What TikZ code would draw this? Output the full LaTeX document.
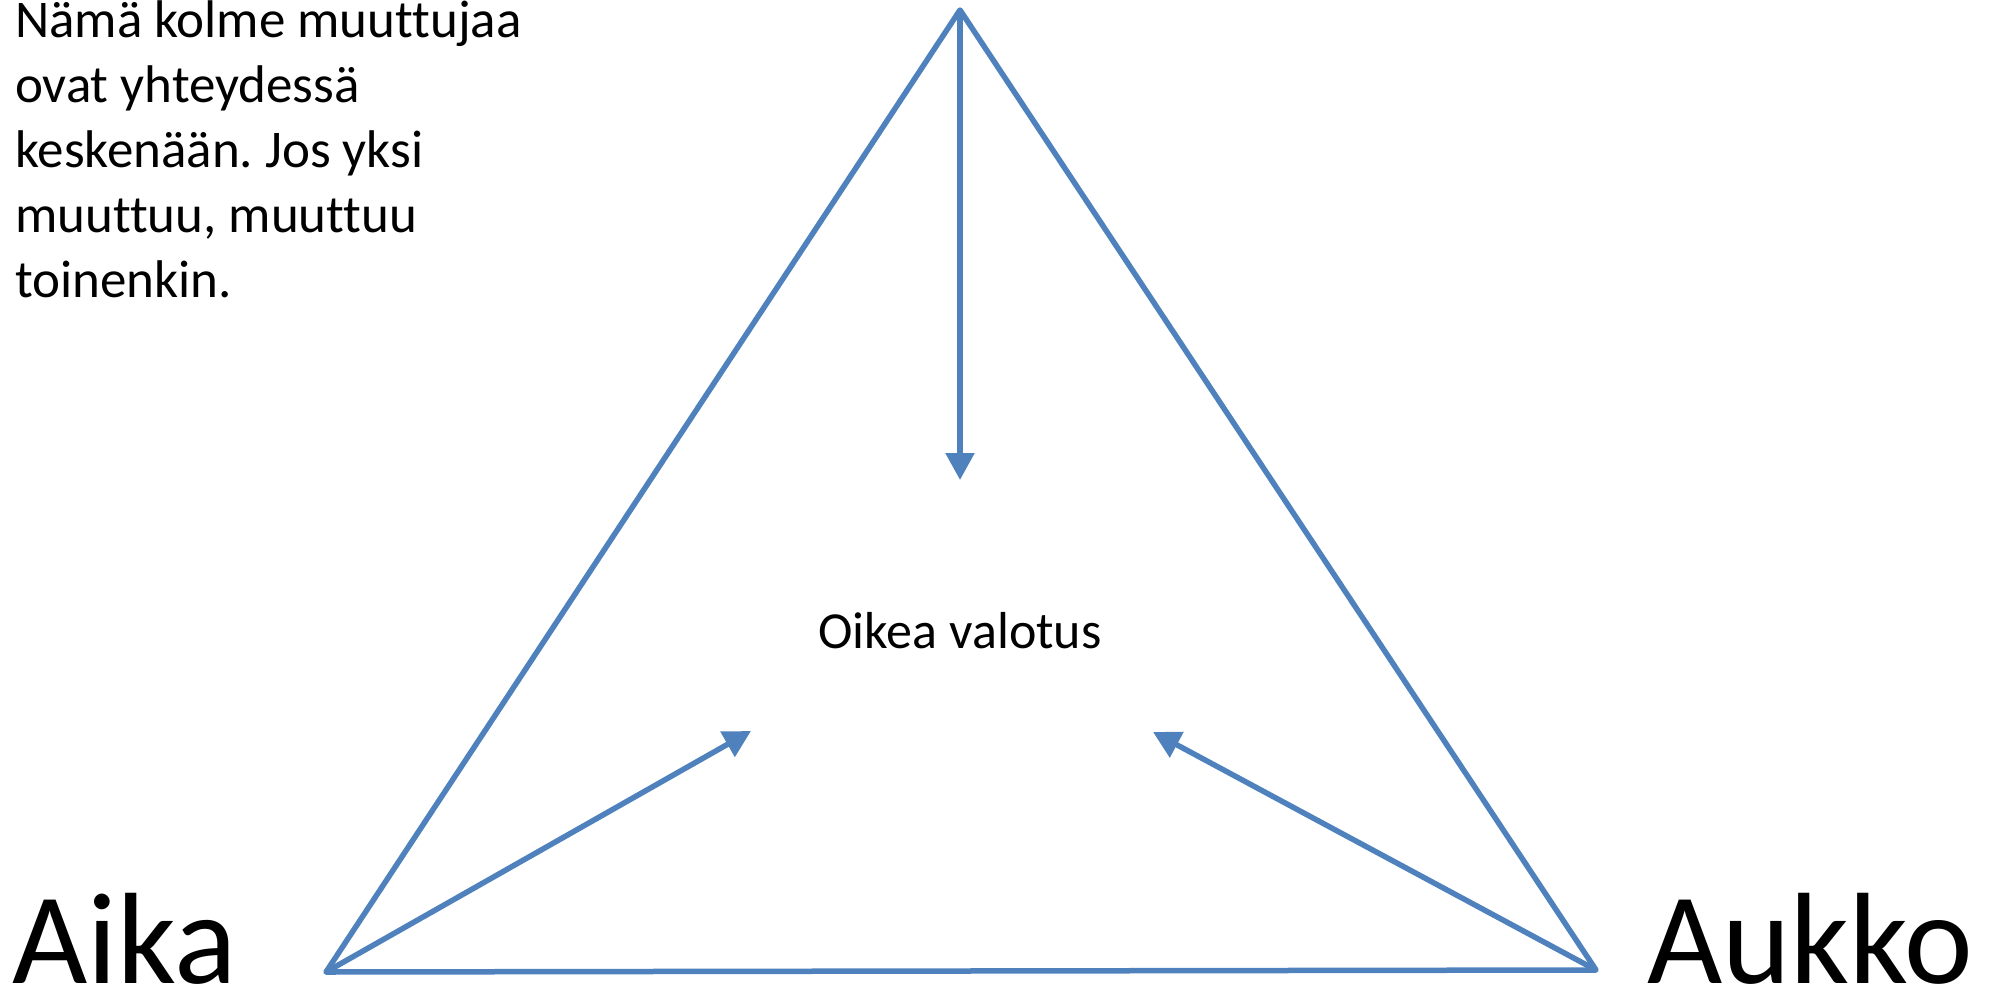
\documentclass[tikz,border=0pt]{standalone}
\usepackage{fontspec}
\setmainfont{Carlito}[Ligatures=NoCommon]
\usetikzlibrary{arrows.meta}
\definecolor{officeblue}{RGB}{79,129,189}
\frenchspacing
\tikzset{
  edgeline/.style={draw=officeblue, line width=5.5pt, line join=round, line cap=round},
  arrowline/.style={draw=officeblue, line width=5.5pt, -{Triangle[width=28pt,length=27pt]}},
  smalltext/.style={inner sep=0pt, align=left, font=\fontsize{53}{65}\selectfont},
  bigtext/.style={inner sep=0pt, font=\fontsize{130}{150}\selectfont},
}
\begin{document}
\begin{tikzpicture}[x=1pt, y=-1pt]
\useasboundingbox (0,0) rectangle (1991,991);
\coordinate (apex) at (960,10);
\coordinate (bl) at (326,972);
\coordinate (br) at (1596,970);
\coordinate (toptip) at (960,480);
\coordinate (lefttip) at (751,731);
\coordinate (righttip) at (1153,732);
\draw[edgeline] (apex) -- (bl) -- (br) -- cycle;
\draw[arrowline] (apex) -- (toptip);
\draw[arrowline] (bl) -- (lefttip);
\draw[arrowline] (br) -- (righttip);
\node[smalltext, anchor=base west] (note) at (15,297) {Nämä kolme muuttujaa\\ovat yhteydessä\\keskenään. Jos yksi\\muuttuu, muuttuu\\toinenkin.};
\node[inner sep=0pt, font=\fontsize{52}{60}\selectfont, anchor=base] (center) at (960,648) {Oikea valotus};
\node[bigtext, anchor=base west] (aika) at (12,983) {Aika};
\node[bigtext, anchor=base west] (aukko) at (1647,983) {Aukko};
\end{tikzpicture}
\end{document}
